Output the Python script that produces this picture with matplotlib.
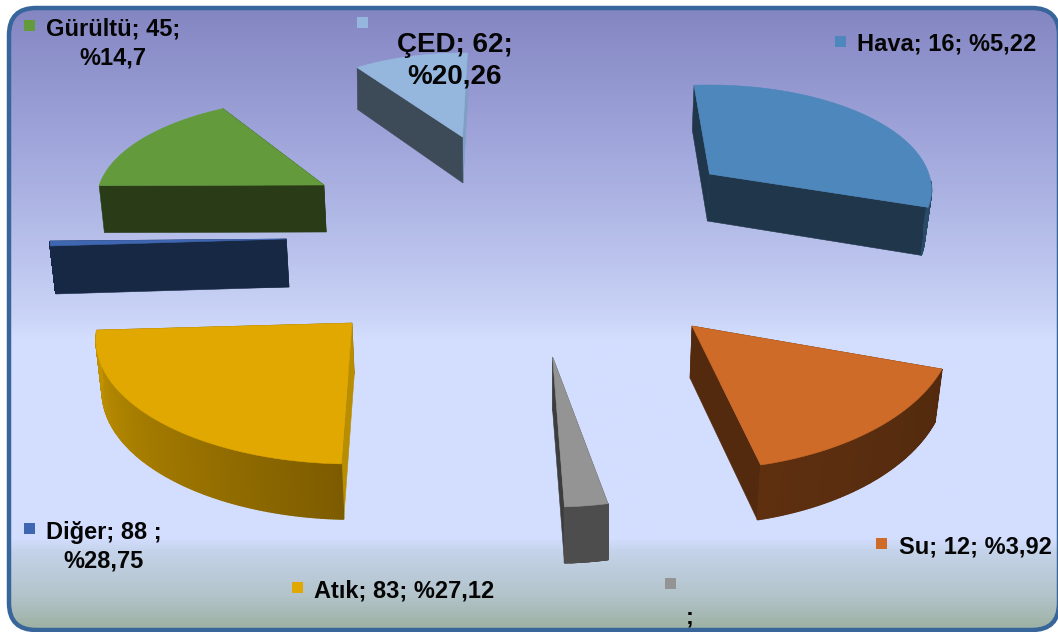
import numpy as np
import matplotlib
matplotlib.use("Agg")
import matplotlib.pyplot as plt
from matplotlib.patches import FancyBboxPatch, Polygon, Rectangle
from matplotlib.colors import LinearSegmentedColormap, to_rgb

# ---- data ----
names = ["Hava", "Su", "Gri", "Atık", "Diğer", "Gürültü", "ÇED"]
sweep_deg = [104.0, 57.4, 9.6, 92.2, 2.0, 55.5, 35.8]   # angle drawn for each slice
labels = ["Hava; 16; %5,22", "Su; 12; %3,92", ";", "Atık; 83; %27,12",
          "Diğer; 88 ;\n%28,75", "Gürültü; 45;\n%14,7", "ÇED; 62;\n%20,26"]

# ---- styling / layout ----
top_colors = ["#4d87bb", "#ce6b28", "#949494", "#e0a800", "#3f66b0", "#629a3c", "#95b7de"]
cut_first = ["#20364b", "#532a0e", "#4d4d4d", "#b88d00", "#172845", "#293b17", "#3d4a57"]
cut_last = ["#20364b", "#532a0e", "#3d3d3d", "#7d5c00", "#172845", "#293b17", "#7f9fc5"]
arc_from = ["#2b4a68", "#532a0e", "#4d4d4d", "#c29300", "#172845", "#293b17", "#7f9fc5"]
arc_to = ["#2b4a68", "#5e3010", "#4d4d4d", "#7d5c00", "#172845", "#293b17", "#7f9fc5"]
start_deg = [94, -17.4, -77.8, -92.4, -177.2, 171.9, 124.3]
apex = [(709.5, 174), (692, 326), (552.6, 357), (352, 323), (286.3, 239), (323.9, 185), (462.5, 137)]
center = [(709.5, 190), (692, 326), (552.6, 357), (352, 340), (286.3, 239), (323.9, 200), (462.5, 137)]
radii = [(222, 105, 100), (262, 144, 144), (262, 150, 150), (256, 124, 124),
         (236.3, 143, 143), (227, 102, 102), (187, 84, 84)]  # a, b above, b below
base_apex = [(707.4, 221), (690, 378), (552.6, 410), (354.3, 374), (289, 287), (326.2, 232), (463, 183)]
base_scale = [(.978, 1.03), (.98, 1.02), (1, 1.02), (.985, 1.03), (.987, 1), (.987, 1), (1, 1.06)]
marker_xy = [(840.5, 41.5), (881.5, 543.5), (670.5, 583.5), (297.5, 587.5),
             (29.5, 528.5), (29.5, 25.5), (362.5, 22.5)]
label_xy = [(947, 44.5), (975, 547), (690, 617), (404, 591), (104, 547), (113, 43.5), (455, 60.5)]
label_size = [17.0, 17.0, 17.0, 17.0, 17.0, 17.0, 20.0]
label_gap = [1.2, 1.2, 1.2, 1.2, 1.29, 1.29, 1.3]

fig = plt.figure(figsize=(10.58, 6.32), dpi=100, facecolor="white")
ax = fig.add_axes([0, 0, 1, 1])
ax.set_xlim(0, 1058)
ax.set_ylim(632, 0)
ax.axis("off")

# background
stops = [(0.0, "#8486c2"), (0.17, "#9a9fd6"), (0.33, "#b0b8e6"), (0.50, "#cbd5f7"),
         (0.53, "#d3deff"), (0.855, "#d3deff"), (0.875, "#c5d3ea"), (0.95, "#b2c3c9"),
         (1.0, "#9db1a3")]
cmap = LinearSegmentedColormap.from_list("bg", stops)
grad = np.linspace(0, 1, 400)[:, None]
box = dict(boxstyle="round,pad=0,rounding_size=27")
frame = FancyBboxPatch((9, 8), 1050, 622, fc="none", ec="#38659a", lw=3.2, zorder=3,
                       clip_on=False, **box)
ax.add_patch(frame)
im = ax.imshow(grad, cmap=cmap, extent=(9, 1059, 630, 8), aspect="auto", zorder=1)
clip = FancyBboxPatch((9, 8), 1050, 622, fc="none", ec="none", transform=ax.transData,
                      clip_on=False, **box)
ax.add_patch(clip)
im.set_clip_path(clip)
ax.set_xlim(0, 1058)
ax.set_ylim(632, 0)


def mix(c1, c2, f):
    a, b = np.array(to_rgb(c1)), np.array(to_rgb(c2))
    return tuple(a + (b - a) * f)


for i, name in enumerate(names):
    a, bu, bd = radii[i]
    t = np.radians(np.linspace(start_deg[i], start_deg[i] - sweep_deg[i], 160))
    s = np.sin(t)
    x = center[i][0] + a * np.cos(t)
    y = center[i][1] - np.where(s >= 0, bu, bd) * s
    ax_, ay_ = apex[i]
    bx = base_apex[i][0] + base_scale[i][0] * (x - ax_)
    by = base_apex[i][1] + base_scale[i][1] * (y - ay_)

    def wall(k, col):
        ax.add_patch(Polygon([(ax_, ay_), (x[k], y[k]), (bx[k], by[k]), base_apex[i]],
                             fc=col, ec=col, lw=0.4, zorder=4))

    for _, k, col in sorted([(y[0], 0, cut_first[i]), (y[-1], 1, cut_last[i])]):
        wall(-k, col)
    # outer rim, only the part that faces the viewer
    idx = [j for j in range(len(t) - 1) if np.sin(t[j]) < 0.09]
    if idx:
        rim = np.r_[np.column_stack([x[idx], y[idx]]),
                    np.column_stack([bx[idx], by[idx]])[::-1]]
        ax.add_patch(Polygon(rim, fc=mix(arc_from[i], arc_to[i], .5), ec="none", zorder=4.4))
        for j in idx:
            f = j / (len(t) - 2)
            f = 1 - f if name == "Atık" else f
            col = mix(arc_from[i], arc_to[i], f)
            ax.add_patch(Polygon([(x[j], y[j]), (x[j + 1], y[j + 1]),
                                  (bx[j + 1], by[j + 1]), (bx[j], by[j])],
                                 fc=col, ec=col, lw=1.0, zorder=4.5))
    ax.add_patch(Polygon(np.column_stack([np.r_[ax_, x], np.r_[ay_, y]]),
                         fc=top_colors[i], ec=top_colors[i], lw=0.4, zorder=5))
    mx, my = marker_xy[i]
    ax.add_patch(Rectangle((mx - 5.5, my - 5.5), 11, 11, fc=top_colors[i], ec="none", zorder=6))
    ax.text(label_xy[i][0], label_xy[i][1], labels[i], ha="center", va="center",
            family="Liberation Sans", fontweight="bold", fontsize=label_size[i],
            linespacing=label_gap[i], color="#050505", zorder=7)

fig.savefig("out.png", dpi=100, facecolor="white")
